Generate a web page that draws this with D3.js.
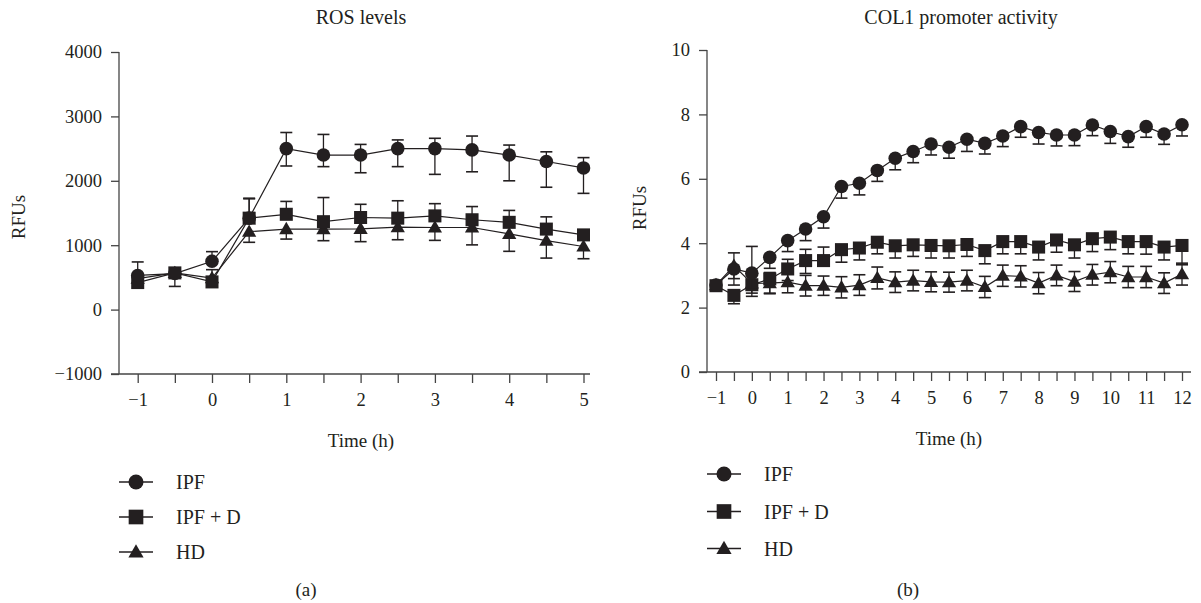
<!DOCTYPE html>
<html>
<head>
<meta charset="utf-8">
<script src="https://cdn.jsdelivr.net/npm/d3@7"></script>
<style>
  html, body { margin: 0; padding: 0; background: #fff; }
  svg { display: block; }
  text { font-family: "Liberation Serif", "DejaVu Serif", serif; fill: #231f20; }
</style>
</head>
<body>
<svg id="chart" width="1201" height="603"></svg>
<script>
// ---------------- DATA ----------------
const seriesNames = ["IPF", "IPF + D", "HD"];

// Panel (a): ROS levels
const rosTime = [-1, -0.5, 0, 0.5, 1, 1.5, 2, 2.5, 3, 3.5, 4, 4.5, 5];
const rosIPF      = [530, 560, 750, 1420, 2500, 2400, 2400, 2500, 2500, 2480, 2400, 2300, 2200];
const rosIPFUp    = [210, 0, 150, 300, 250, 320, 165, 135, 160, 215, 155, 150, 160];
const rosIPFDown  = [0, 0, 0, 0, 270, 180, 275, 280, 400, 340, 400, 400, 395];
const rosIPFD     = [420, 570, 430, 1420, 1480, 1365, 1430, 1420, 1455, 1395, 1355, 1250, 1160];
const rosIPFDUp   = [0, 0, 190, 310, 200, 375, 205, 270, 190, 205, 185, 190, 0];
const rosIPFDDown = [0, 210, 0, 0, 0, 0, 0, 0, 0, 0, 0, 0, 0];
const rosHD       = [480, 570, 490, 1210, 1250, 1250, 1255, 1280, 1275, 1275, 1175, 1070, 980];
const rosHDUp     = [0, 0, 0, 0, 0, 0, 0, 0, 0, 0, 0, 0, 0];
const rosHDDown   = [0, 0, 0, 165, 155, 180, 200, 195, 200, 270, 270, 270, 190];
const rosYTicks = [-1000, 0, 1000, 2000, 3000, 4000];
const rosXTicks = [-1, -0.5, 0, 0.5, 1, 1.5, 2, 2.5, 3, 3.5, 4, 4.5, 5];
const rosXLabels = [-1, 0, 1, 2, 3, 4, 5];

// Panel (b): COL1 promoter activity
const colTime = [-1, -0.5, 0, 0.5, 1, 1.5, 2, 2.5, 3, 3.5, 4, 4.5, 5, 5.5, 6, 6.5, 7, 7.5, 8, 8.5, 9, 9.5, 10, 10.5, 11, 11.5, 12];
const colIPF      = [2.7, 3.2, 3.07, 3.56, 4.08, 4.44, 4.82, 5.76, 5.86, 6.26, 6.64, 6.85, 7.08, 6.98, 7.23, 7.1, 7.33, 7.62, 7.44, 7.36, 7.36, 7.67, 7.47, 7.31, 7.62, 7.39, 7.68];
const colIPFUp    = [0, 0, 0.83, 0, 0, 0, 0, 0, 0, 0, 0, 0, 0, 0, 0, 0, 0, 0, 0, 0, 0, 0, 0, 0, 0, 0, 0];
const colIPFDown  = [0, 0.5, 0.5, 0.34, 0.34, 0.36, 0.35, 0.36, 0.36, 0.34, 0.36, 0.35, 0.34, 0.34, 0.38, 0.33, 0.33, 0.33, 0.36, 0.34, 0.33, 0.33, 0.37, 0.33, 0.33, 0.32, 0.35];
const colIPFD     = [2.68, 2.38, 2.71, 2.89, 3.2, 3.46, 3.46, 3.8, 3.85, 4.03, 3.92, 3.95, 3.93, 3.92, 3.96, 3.77, 4.05, 4.05, 3.88, 4.1, 3.95, 4.14, 4.19, 4.05, 4.05, 3.88, 3.93];
const colIPFDUp   = [0, 0, 0, 0, 0.3, 0.35, 0.42, 0, 0, 0, 0, 0, 0, 0, 0, 0, 0, 0, 0, 0, 0, 0, 0, 0, 0, 0, 0];
const colIPFDDown = [0, 0.26, 0.36, 0.44, 0.36, 0.4, 0, 0.39, 0.37, 0.36, 0.38, 0.36, 0.39, 0.38, 0.37, 0.41, 0.38, 0.38, 0.4, 0.38, 0.41, 0.4, 0.39, 0.38, 0.39, 0.4, 0.6];
const colHD       = [2.7, 3.3, 2.75, 2.76, 2.79, 2.68, 2.68, 2.63, 2.7, 2.92, 2.79, 2.84, 2.8, 2.79, 2.84, 2.64, 2.99, 2.97, 2.76, 3.0, 2.81, 3.02, 3.1, 2.95, 2.95, 2.76, 3.04];
const colHDErr    = [0.1, 0.4, 0.3, 0.33, 0.33, 0.32, 0.3, 0.33, 0.32, 0.34, 0.32, 0.32, 0.31, 0.31, 0.32, 0.33, 0.33, 0.33, 0.33, 0.32, 0.31, 0.32, 0.33, 0.33, 0.33, 0.32, 0.34];
const colYTicks = [0, 2, 4, 6, 8, 10];
const colXTicks = [-1, -0.5, 0, 0.5, 1, 1.5, 2, 2.5, 3, 3.5, 4, 4.5, 5, 5.5, 6, 6.5, 7, 7.5, 8, 8.5, 9, 9.5, 10, 10.5, 11, 11.5, 12];
const colXLabels = [-1, 0, 1, 2, 3, 4, 5, 6, 7, 8, 9, 10, 11, 12];

// ---------------- DRAW ----------------
const INK = "#231f20";
const svg = d3.select("#chart");
const symbolTypes = [d3.symbolCircle, d3.symbolSquare, d3.symbolTriangle];
const symbolSizes = [145, 170, 88];
const legendSizes = [177, 215, 100];
const fmtNum = v => (v < 0 ? "\u2212" + Math.abs(v) : String(v));
const FONT = '"Liberation Serif", serif';

function drawPanel(p) {
  const g = svg.append("g");
  const x = d3.scaleLinear().domain(p.xDomain).range(p.xRange);
  const y = d3.scaleLinear().domain(p.yDomain).range(p.yRange);

  // title
  g.append("text").attr("x", p.titleX).attr("y", 24).attr("text-anchor", "middle")
    .attr("font-size", 20).text(p.title);

  // y axis
  const yAxis = d3.axisLeft(y).tickValues(p.yTicks).tickSize(8).tickPadding(9)
    .tickFormat(fmtNum).tickSizeOuter(0);
  const ya = g.append("g").attr("transform", `translate(${p.axisX},0)`).call(yAxis);
  ya.select(".domain").remove();
  ya.selectAll("line").attr("stroke", "#444").attr("stroke-width", 1.3);
  ya.selectAll("text").attr("font-size", 18.5).attr("fill", INK).style("font-family", FONT);
  g.append("line").attr("x1", p.axisX).attr("x2", p.axisX)
    .attr("y1", p.yRange[1]).attr("y2", p.yRange[0])
    .attr("stroke", "#444").attr("stroke-width", 1.3);

  // x axis
  const xAxis = d3.axisBottom(x).tickValues(p.xTicks).tickSize(9).tickPadding(10)
    .tickFormat(d => p.xLabels.includes(d) ? fmtNum(d) : "").tickSizeOuter(0);
  const xa = g.append("g").attr("transform", `translate(0,${p.yRange[0]})`).call(xAxis);
  xa.select(".domain").remove();
  xa.selectAll("line").attr("stroke", "#444").attr("stroke-width", 1.3);
  xa.selectAll("text").attr("font-size", 18.5).attr("fill", INK).style("font-family", FONT);
  g.append("line").attr("x1", p.axisX - 8).attr("x2", p.xLineEnd)
    .attr("y1", p.yRange[0]).attr("y2", p.yRange[0])
    .attr("stroke", "#444").attr("stroke-width", 1.3);

  // axis titles
  g.append("text").attr("transform", `translate(${p.yTitleX},${p.yTitleY}) rotate(-90)`)
    .attr("text-anchor", "middle").attr("font-size", 19).text("RFUs");
  g.append("text").attr("x", p.xTitleX).attr("y", p.xTitleY).attr("text-anchor", "middle")
    .attr("font-size", 19).text("Time (h)");

  // series (draw in reverse so IPF on top)
  const line = d3.line().x(d => x(d.t)).y(d => y(d.v));
  [2, 1, 0].forEach(si => {
    const s = p.series[si];
    const pts = p.time.map((t, i) => ({ t, v: s.mean[i], up: s.up[i], down: s.down[i] }));
    const sg = g.append("g");
    const cap = 6;
    pts.forEach(d => {
      [[d.up, 1], [d.down, -1]].forEach(([e, sign]) => {
        if (e <= 0) return;
        const ye = y(d.v + sign * e);
        sg.append("line").attr("x1", x(d.t)).attr("x2", x(d.t)).attr("y1", y(d.v)).attr("y2", ye)
          .attr("stroke", INK).attr("stroke-width", 1.3);
        sg.append("line").attr("x1", x(d.t) - cap).attr("x2", x(d.t) + cap).attr("y1", ye).attr("y2", ye)
          .attr("stroke", INK).attr("stroke-width", 1.6);
      });
    });
    sg.append("path").datum(pts).attr("d", line).attr("fill", "none")
      .attr("stroke", INK).attr("stroke-width", 1.2);
    sg.selectAll("path.m").data(pts).join("path").attr("class", "m")
      .attr("transform", d => `translate(${x(d.t)},${y(d.v) + (si === 2 ? 1 : 0)})`)
      .attr("d", d3.symbol().type(symbolTypes[si]).size(symbolSizes[si])())
      .attr("fill", INK);
  });

  // legend
  seriesNames.forEach((name, i) => {
    const ly = p.legendY[i];
    g.append("line").attr("x1", p.legendX - 17).attr("x2", p.legendX + 17).attr("y1", ly).attr("y2", ly)
      .attr("stroke", INK).attr("stroke-width", 1.3);
    g.append("path").attr("transform", `translate(${p.legendX},${ly + (i === 2 ? 1 : 0)})`)
      .attr("d", d3.symbol().type(symbolTypes[i]).size(legendSizes[i])()).attr("fill", INK);
    g.append("text").attr("x", p.legendX + 40).attr("y", ly + 7).attr("font-size", 20).text(name);
  });

  g.append("text").attr("x", p.capX).attr("y", 596).attr("text-anchor", "middle")
    .attr("font-size", 19).text(p.caption);
}

drawPanel({
  title: "ROS levels", titleX: 361,
  xDomain: [-1, 5], xRange: [137.7, 583.5],
  yDomain: [-1000, 4000], yRange: [374, 52],
  axisX: 119, xLineEnd: 590,
  yTicks: rosYTicks, xTicks: rosXTicks, xLabels: rosXLabels,
  yTitleX: 25, yTitleY: 217, xTitleX: 361, xTitleY: 447,
  time: rosTime,
  series: [
    { mean: rosIPF, up: rosIPFUp, down: rosIPFDown },
    { mean: rosIPFD, up: rosIPFDUp, down: rosIPFDDown },
    { mean: rosHD, up: rosHDUp, down: rosHDDown }
  ],
  legendX: 136, legendY: [482, 517, 552],
  caption: "(a)", capX: 306
});

drawPanel({
  title: "COL1 promoter activity", titleX: 961,
  xDomain: [-1, 12], xRange: [716, 1182],
  yDomain: [0, 10], yRange: [372, 50],
  axisX: 707, xLineEnd: 1191,
  yTicks: colYTicks, xTicks: colXTicks, xLabels: colXLabels,
  yTitleX: 646, yTitleY: 208, xTitleX: 949, xTitleY: 445,
  time: colTime,
  series: [
    { mean: colIPF, up: colIPFUp, down: colIPFDown },
    { mean: colIPFD, up: colIPFDUp, down: colIPFDDown },
    { mean: colHD, up: colHDErr, down: colHDErr }
  ],
  legendX: 724, legendY: [474, 511.5, 548.5],
  caption: "(b)", capX: 908
});
</script>
</body>
</html>
